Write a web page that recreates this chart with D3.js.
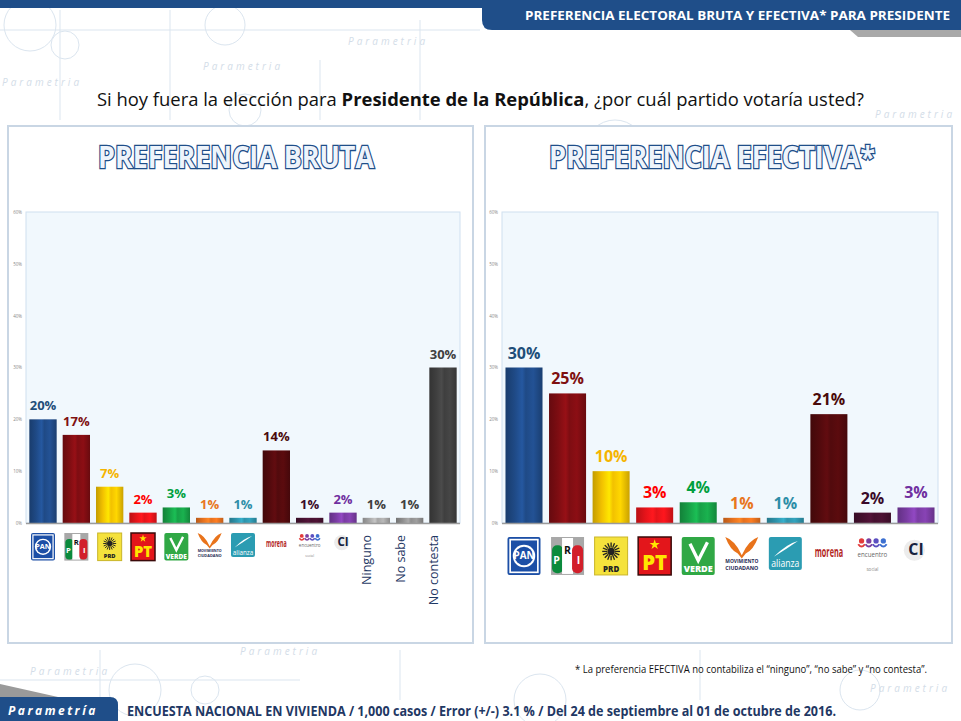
<!DOCTYPE html>
<html lang="es">
  <head>
    <meta charset="UTF-8" />
    <title>Preferencia electoral bruta y efectiva</title>
    <script src="https://cdn.jsdelivr.net/npm/d3@7"></script>
    <style>
      body { margin: 0; background: #fff; }
      text { font-family: "Open Sans", "DejaVu Sans", sans-serif; }
    </style>
  </head>
  <body>
    <svg width="961" height="721"></svg>

    <script>
      var partidos = ["PAN", "PRI", "PRD", "PT", "VERDE", "MC", "NA", "MORENA", "PES", "CI"];
      var categoriasBruta = partidos.concat(["Ninguno", "No sabe", "No contesta"]);
      var valoresBruta = [20, 17, 7, 2, 3, 1, 1, 14, 1, 2, 1, 1, 30];
      var valoresEfectiva = [30, 25, 10, 3, 4, 1, 1, 21, 2, 3];
      var ticksY = [0, 10, 20, 30, 40, 50, 60];

      // colores de barra y de etiqueta por categoria
      var coloresBarra = ["#1f4a86", "#7e0d12", "#f2c100", "#e5141a", "#17a047", "#e5701e", "#2e93ab",
                          "#520a0d", "#45102f", "#7a3ca3", "#a6a6a6", "#8f8f8f", "#3f3f3f"];
      var coloresEtiqueta = ["#1f4e79", "#7f1010", "#f5b400", "#ff0000", "#00a040", "#e8761e", "#2e8ea8",
                             "#4a0a0a", "#3a0a2a", "#7030a0", "#404040", "#404040", "#404040"];

      var svg = d3.select("svg");
      var defs = svg.append("defs");

      // gradiente tipo cilindro para cada color
      coloresBarra.forEach(function (c, i) {
        var g = defs.append("linearGradient").attr("id", "grad" + i)
          .attr("x1", "0%").attr("x2", "100%").attr("y1", "0%").attr("y2", "0%");
        var base = d3.color(c);
        [[0, base.darker(0.6)], [0.25, base], [0.45, base.brighter(0.5)], [0.55, base],
         [0.75, base.brighter(0.3)], [1, base.darker(0.5)]].forEach(function (s) {
          g.append("stop").attr("offset", s[0]).attr("stop-color", s[1]);
        });
      });

      // ---- fondo / marca de agua ----
      var wm = svg.append("g").attr("fill", "none").attr("stroke", "#dbe5ef").attr("stroke-width", 1);
      [[30, 25, 26], [65, 45, 14], [225, 25, 20], [245, 110, 16], [615, 150, 30], [910, 160, 24],
       [135, 690, 26], [205, 690, 14], [540, 700, 26], [860, 690, 20]].forEach(function (c) {
        wm.append("circle").attr("cx", c[0]).attr("cy", c[1]).attr("r", c[2]);
      });
      [[0, 30, 480, 30], [60, 10, 60, 120], [170, 10, 170, 120], [320, 60, 320, 120], [420, 20, 420, 120],
       [0, 680, 300, 680], [100, 650, 100, 700], [400, 650, 400, 700], [700, 650, 700, 700]].forEach(function (l) {
        wm.append("line").attr("x1", l[0]).attr("y1", l[1]).attr("x2", l[2]).attr("y2", l[3]);
      });
      [["Parametria", 348, 45], ["Parametria", 203, 70], ["Parametria", 2, 86], ["Parametria", 875, 118],
       ["Parametria", 240, 655], ["Parametria", 30, 675], ["Parametria", 870, 692]].forEach(function (t) {
        svg.append("text").attr("x", t[1]).attr("y", t[2]).text(t[0])
          .attr("font-family", "DejaVu Serif").attr("font-style", "italic").attr("font-size", 10)
          .attr("letter-spacing", 3).attr("fill", "#d3dde8");
      });

      // franja superior izquierda
      svg.append("rect").attr("x", 0).attr("y", 0).attr("width", 490).attr("height", 8).attr("fill", "#1f4e89");

      // cabecera derecha
      svg.append("path").attr("d", "M850,30 L961,30 L961,37 L858,37 Z").attr("fill", "#a9a9a9");
      svg.append("path").attr("d", "M482,0 H961 V30 H492 Q482,30 482,20 Z").attr("fill", "#1f4e89");
      svg.append("text").attr("x", 950).attr("y", 20).attr("text-anchor", "end")
        .attr("fill", "#fff").attr("font-weight", 700).attr("font-size", 12.5)
        .attr("textLength", 425).attr("lengthAdjust", "spacingAndGlyphs")
        .text("PREFERENCIA ELECTORAL BRUTA Y EFECTIVA* PARA PRESIDENTE");

      // pregunta
      var preg = svg.append("text").attr("x", 97).attr("y", 106).attr("font-size", 18).attr("fill", "#111")
        .attr("textLength", 767).attr("lengthAdjust", "spacingAndGlyphs");
      preg.append("tspan").text("Si hoy fuera la elección para ");
      preg.append("tspan").attr("font-weight", 700).text("Presidente de la República");
      preg.append("tspan").text(", ¿por cuál partido votaría usted?");

      // paneles
      var paneles = [
        { x0: 8, x1: 473, titulo: "PREFERENCIA BRUTA", tx: 236, tl: 276 },
        { x0: 485, x1: 952, titulo: "PREFERENCIA EFECTIVA*", tx: 712, tl: 326 }
      ];
      paneles.forEach(function (p) {
        svg.append("rect").attr("x", p.x0).attr("y", 126).attr("width", p.x1 - p.x0).attr("height", 517)
          .attr("fill", "#fff").attr("stroke", "#c9d6e4").attr("stroke-width", 2);
        svg.append("text").attr("x", p.tx).attr("y", 168).attr("text-anchor", "middle")
          .attr("font-size", 30).attr("font-weight", 700)
          .attr("fill", "#eef4fb").attr("stroke", "#1f4e89").attr("stroke-width", 2.6)
          .attr("paint-order", "stroke")
          .attr("textLength", p.tl).attr("lengthAdjust", "spacingAndGlyphs")
          .text(p.titulo);
      });

      // ---- logos de partidos (simplificados) ----
      function logo(g, nombre, s) {
        var h = s * 1.15;
        if (nombre === "PAN") {
          g.append("rect").attr("x", -s / 2).attr("y", 0).attr("width", s).attr("height", h).attr("rx", 2).attr("fill", "#1c4fa6");
          g.append("rect").attr("x", -s / 2 + s * 0.08).attr("y", s * 0.08).attr("width", s * 0.84).attr("height", h - s * 0.16)
            .attr("fill", "none").attr("stroke", "#fff").attr("stroke-width", s * 0.05);
          g.append("circle").attr("cx", 0).attr("cy", h / 2).attr("r", s * 0.34).attr("fill", "#fff");
          g.append("circle").attr("cx", 0).attr("cy", h / 2).attr("r", s * 0.28).attr("fill", "#1c4fa6");
          g.append("text").attr("x", 0).attr("y", h / 2 + s * 0.1).attr("text-anchor", "middle")
            .attr("font-size", s * 0.3).attr("font-weight", 700).attr("fill", "#fff").text("PAN");
        } else if (nombre === "PRI") {
          g.append("rect").attr("x", -s / 2).attr("y", 0).attr("width", s).attr("height", h).attr("fill", "#a8a8a8");
          g.append("rect").attr("x", -s / 2 + 1).attr("y", s * 0.25).attr("width", s / 3).attr("height", h - s * 0.3).attr("rx", s * 0.15).attr("fill", "#0b8a3c");
          g.append("rect").attr("x", -s / 6).attr("y", 1).attr("width", s / 3).attr("height", h - 2).attr("fill", "#fff");
          g.append("rect").attr("x", s / 6 - 1).attr("y", s * 0.25).attr("width", s / 3).attr("height", h - s * 0.3).attr("rx", s * 0.15).attr("fill", "#d21f2b");
          [["P", -s / 3, h * 0.72, "#fff"], ["R", 0, h * 0.45, "#111"], ["I", s / 3, h * 0.72, "#fff"]].forEach(function (l) {
            g.append("text").attr("x", l[1]).attr("y", l[2]).attr("text-anchor", "middle").attr("font-size", s * 0.32)
              .attr("font-weight", 700).attr("fill", l[3]).text(l[0]);
          });
        } else if (nombre === "PRD") {
          g.append("rect").attr("x", -s / 2).attr("y", 0).attr("width", s).attr("height", h).attr("fill", "#f5e23c").attr("stroke", "#c9b52a");
          for (var k = 0; k < 16; k++) {
            var a = k * Math.PI / 8;
            g.append("line").attr("x1", Math.cos(a) * s * 0.12).attr("y1", h * 0.38 + Math.sin(a) * s * 0.12)
              .attr("x2", Math.cos(a) * s * 0.27).attr("y2", h * 0.38 + Math.sin(a) * s * 0.27)
              .attr("stroke", "#222").attr("stroke-width", s * 0.04);
          }
          g.append("circle").attr("cx", 0).attr("cy", h * 0.38).attr("r", s * 0.11).attr("fill", "#222");
          g.append("text").attr("x", 0).attr("y", h * 0.92).attr("text-anchor", "middle").attr("font-size", s * 0.24)
            .attr("font-weight", 800).attr("fill", "#222").text("PRD");
        } else if (nombre === "PT") {
          g.append("rect").attr("x", -s / 2).attr("y", 0).attr("width", s).attr("height", h).attr("fill", "#e3161b").attr("stroke", "#3a0a0a").attr("stroke-width", 1.5);
          g.append("path").attr("d", d3.symbol(d3.symbolStar, s * s * 0.03)()).attr("transform", "translate(0," + h * 0.2 + ")").attr("fill", "#ffe600");
          g.append("text").attr("x", 0).attr("y", h * 0.88).attr("text-anchor", "middle").attr("font-size", s * 0.62)
            .attr("font-weight", 800).attr("fill", "#ffe600").text("PT");
        } else if (nombre === "VERDE") {
          g.append("rect").attr("x", -s / 2).attr("y", 0).attr("width", s).attr("height", h).attr("rx", 2).attr("fill", "#30a845");
          g.append("path").attr("d", "M" + (-s * 0.25) + "," + h * 0.18 + " L0," + h * 0.62 + " L" + s * 0.28 + "," + h * 0.14)
            .attr("fill", "none").attr("stroke", "#fff").attr("stroke-width", s * 0.1);
          g.append("text").attr("x", 0).attr("y", h * 0.93).attr("text-anchor", "middle").attr("font-size", s * 0.25)
            .attr("font-weight", 800).attr("fill", "#fff").attr("textLength", s * 0.88).attr("lengthAdjust", "spacingAndGlyphs").text("VERDE");
        } else if (nombre === "MC") {
          g.append("path").attr("d", "M" + (-s * 0.5) + ",0 Q" + (-s * 0.2) + "," + s * 0.1 + " 0," + s * 0.55 +
            " Q" + s * 0.2 + "," + s * 0.1 + " " + s * 0.5 + ",0 Q" + s * 0.35 + "," + s * 0.4 + " " + s * 0.12 + "," + s * 0.5 +
            " L0," + s * 0.65 + " L" + (-s * 0.12) + "," + s * 0.5 + " Q" + (-s * 0.35) + "," + s * 0.4 + " " + (-s * 0.5) + ",0 Z")
            .attr("fill", "#e8731b");
          g.append("text").attr("x", 0).attr("y", s * 0.8).attr("text-anchor", "middle").attr("font-size", s * 0.16)
            .attr("font-weight", 700).attr("fill", "#1f2a55").attr("textLength", s * 1.0).attr("lengthAdjust", "spacingAndGlyphs").text("MOVIMIENTO");
          g.append("text").attr("x", 0).attr("y", s * 1.0).attr("text-anchor", "middle").attr("font-size", s * 0.16)
            .attr("font-weight", 700).attr("fill", "#1f2a55").attr("textLength", s * 1.0).attr("lengthAdjust", "spacingAndGlyphs").text("CIUDADANO");
        } else if (nombre === "NA") {
          g.append("rect").attr("x", -s / 2).attr("y", 0).attr("width", s).attr("height", s).attr("rx", 2).attr("fill", "#2b9cb2");
          g.append("path").attr("d", "M" + (-s * 0.35) + "," + s * 0.6 + " Q" + s * 0.05 + "," + s * 0.2 + " " + s * 0.38 + "," + s * 0.12 +
            " Q" + s * 0.05 + "," + s * 0.35 + " " + (-s * 0.35) + "," + s * 0.6 + " Z").attr("fill", "#fff");
          g.append("text").attr("x", 0).attr("y", s * 0.9).attr("text-anchor", "middle").attr("font-size", s * 0.3)
            .attr("fill", "#fff").attr("textLength", s * 0.85).attr("lengthAdjust", "spacingAndGlyphs").text("alianza");
        } else if (nombre === "MORENA") {
          // letra alta y angosta: escala vertical en lugar de estirar el ancho
          g.append("text").attr("transform", "translate(0," + s * 0.6 + ") scale(1,2)")
            .attr("text-anchor", "middle").attr("font-size", s * 0.22)
            .attr("font-weight", 700).attr("fill", "#b3271f").text("morena");
        } else if (nombre === "PES") {
          ["#e23b3b", "#7b3fa0", "#5b4fc0", "#3b6fd0"].forEach(function (c, k) {
            var cx = -s * 0.33 + k * s * 0.22;
            g.append("circle").attr("cx", cx).attr("cy", s * 0.12).attr("r", s * 0.08).attr("fill", c);
            g.append("path").attr("d", "M" + (cx - s * 0.1) + "," + s * 0.22 + " Q" + cx + "," + s * 0.36 + " " + (cx + s * 0.1) + "," + s * 0.22)
              .attr("fill", "none").attr("stroke", c).attr("stroke-width", s * 0.06);
          });
          g.append("text").attr("x", 0).attr("y", s * 0.6).attr("text-anchor", "middle").attr("font-size", s * 0.2)
            .attr("fill", "#666").attr("textLength", s * 0.9).attr("lengthAdjust", "spacingAndGlyphs").text("encuentro");
          g.append("text").attr("x", 0).attr("y", s * 1.02).attr("text-anchor", "middle").attr("font-size", s * 0.14)
            .attr("fill", "#888").text("social");
        } else if (nombre === "CI") {
          g.append("circle").attr("cx", -s * 0.05).attr("cy", s * 0.4).attr("r", s * 0.32).attr("fill", "#ececec");
          g.append("text").attr("x", 0).attr("y", s * 0.55).attr("text-anchor", "middle").attr("font-size", s * 0.48)
            .attr("font-weight", 700).attr("fill", "#16213e").text("CI");
        }
      }

      // ---- graficas de barras ----
      function grafica(cfg) {
        var y = d3.scaleLinear().domain([0, 60]).range([523, 212]);
        var x = d3.scaleBand().domain(cfg.categorias).range([cfg.x0, cfg.x1])
          .paddingInner(cfg.pin).paddingOuter(cfg.pout);
        var g = svg.append("g");

        g.append("rect").attr("x", cfg.x0).attr("y", 212).attr("width", cfg.x1 - cfg.x0).attr("height", 311)
          .attr("fill", "#f1f8fd").attr("stroke", "#cfe0f0");

        var eje = d3.axisLeft(y).tickValues(ticksY).tickSize(0).tickPadding(4).tickFormat(function (d) { return d + "%"; });
        g.append("g").attr("transform", "translate(" + cfg.x0 + ",0)").call(eje)
          .call(function (a) { a.select(".domain").remove(); })
          .selectAll("text").attr("font-size", 4.5).attr("fill", "#8a8a8a");

        g.selectAll(".barra").data(cfg.valores).enter().append("rect")
          .attr("x", function (d, i) { return x(cfg.categorias[i]); })
          .attr("y", function (d) { return y(d); })
          .attr("width", x.bandwidth())
          .attr("height", function (d) { return y(0) - y(d); })
          .attr("fill", function (d, i) { return "url(#grad" + i + ")"; });

        g.append("line").attr("x1", cfg.x0).attr("x2", cfg.x1).attr("y1", 523.5).attr("y2", 523.5)
          .attr("stroke", "#9a9a9a").attr("stroke-width", 1.5);

        g.selectAll(".valor").data(cfg.valores).enter().append("text")
          .attr("x", function (d, i) { return x(cfg.categorias[i]) + x.bandwidth() / 2; })
          .attr("y", function (d) { return y(d) - 9; })
          .attr("text-anchor", "middle").attr("font-weight", 700).attr("font-size", cfg.fs)
          .attr("fill", function (d, i) { return coloresEtiqueta[i]; })
          .text(function (d) { return d + "%"; });

        cfg.categorias.forEach(function (c, i) {
          var cx = x(c) + x.bandwidth() / 2;
          if (partidos.indexOf(c) >= 0) {
            logo(g.append("g").attr("transform", "translate(" + cx + "," + cfg.logoY + ")"), c, cfg.logo);
          } else {
            g.append("text").attr("transform", "translate(" + (cx - 5) + ",535) rotate(-90)")
              .attr("text-anchor", "end").attr("font-size", 12.5).attr("fill", "#1f3864").text(c);
          }
        });
      }

      grafica({ categorias: categoriasBruta, valores: valoresBruta, x0: 26, x1: 460,
                pin: 0.18, pout: 0.1, fs: 13, logo: 24, logoY: 533 });
      grafica({ categorias: partidos, valores: valoresEfectiva, x0: 502, x1: 938,
                pin: 0.15, pout: 0.08, fs: 16, logo: 33, logoY: 537 });

      // nota
      svg.append("text").attr("x", 927).attr("y", 673).attr("text-anchor", "end").attr("font-size", 10)
        .attr("fill", "#111").attr("textLength", 352).attr("lengthAdjust", "spacingAndGlyphs")
        .text("* La preferencia EFECTIVA no contabiliza el “ninguno”, “no sabe” y “no contesta”.");

      // pie
      svg.append("path").attr("d", "M0,684 L58,697 L0,697 Z").attr("fill", "#9a9a9a");
      svg.append("path").attr("d", "M0,697 H110 Q118,697 118,705 V721 H0 Z").attr("fill", "#1f4e89");
      svg.append("text").attr("x", 8).attr("y", 715).attr("font-family", "DejaVu Serif").attr("font-style", "italic")
        .attr("font-weight", 700).attr("font-size", 12).attr("letter-spacing", 2.5).attr("fill", "#fff").text("Parametría");
      svg.append("text").attr("x", 127).attr("y", 716).attr("font-size", 14).attr("font-weight", 700)
        .attr("fill", "#1f3864").attr("textLength", 709).attr("lengthAdjust", "spacingAndGlyphs")
        .text("ENCUESTA NACIONAL EN VIVIENDA / 1,000 casos / Error (+/-) 3.1 % / Del 24 de septiembre al 01 de octubre de 2016.");
    </script>
  </body>
</html>
